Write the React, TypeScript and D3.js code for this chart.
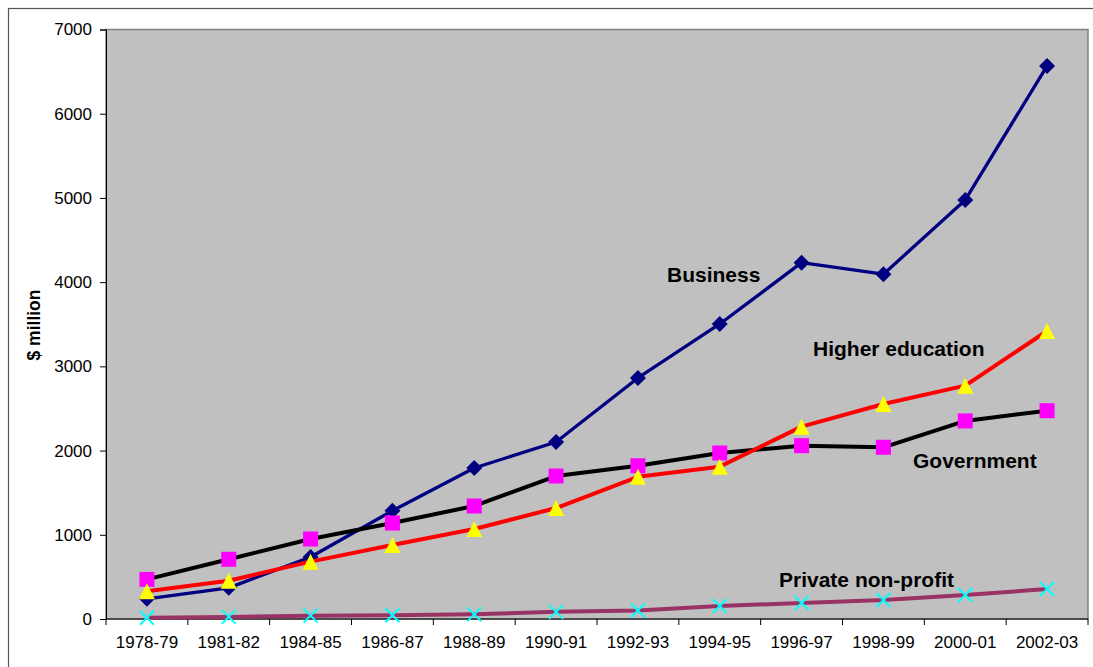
import React, { useEffect, useRef } from "react";
import * as d3 from "d3";

const years = [
  "1978-79", "1981-82", "1984-85", "1986-87", "1988-89", "1990-91",
  "1992-93", "1994-95", "1996-97", "1998-99", "2000-01", "2002-03",
];
const business = [240, 370, 736, 1285, 1793, 2102, 2862, 3503, 4231, 4094, 4976, 6568];
const government = [470, 709, 950, 1140, 1342, 1698, 1819, 1971, 2058, 2039, 2352, 2474];
const higherEducation = [330, 455, 681, 879, 1069, 1318, 1688, 1809, 2284, 2553, 2771, 3420];
const privateNonProfit = [15, 25, 40, 45, 55, 85, 100, 155, 190, 226, 285, 356];
const yTicks = [0, 1000, 2000, 3000, 4000, 5000, 6000, 7000];

const W = 1093;
const H = 667;
const plot = { left: 106, top: 29.5, right: 1088, bottom: 619 };
const FONT = "Liberation Sans, Arial, sans-serif";

export default function App() {
  const ref = useRef<SVGSVGElement | null>(null);

  useEffect(() => {
    const svg = d3.select(ref.current);
    svg.selectAll("*").remove();

    const x = d3.scaleBand<string>().domain(years).range([plot.left, plot.right]);
    const y = d3.scaleLinear().domain([0, 7000]).range([plot.bottom, plot.top]);
    const cx = (i: number) => (x(years[i]) as number) + x.bandwidth() / 2;

    // outer chart frame
    svg.append("rect")
      .attr("x", 8.5).attr("y", 8.5)
      .attr("width", W).attr("height", H)
      .attr("fill", "#fff").attr("stroke", "#555").attr("stroke-width", 1.2);

    // plot area
    svg.append("rect")
      .attr("x", plot.left).attr("y", plot.top)
      .attr("width", plot.right - plot.left).attr("height", plot.bottom - plot.top)
      .attr("fill", "#c0c0c0").attr("stroke", "#808080").attr("stroke-width", 1.5);

    // y axis
    const yAxis = svg.append("g").attr("transform", `translate(${plot.left},0)`)
      .call(d3.axisLeft(y).tickValues(yTicks).tickSize(6).tickPadding(8).tickFormat(d3.format("d")));
    yAxis.attr("font-size", null).attr("font-family", null);
    yAxis.select(".domain").attr("stroke", "#000");
    yAxis.selectAll(".tick line").attr("stroke", "#000");
    yAxis.selectAll("text")
      .style("font-family", FONT)
      .style("font-size", "17px").attr("fill", "#000");

    // x axis with ticks at category boundaries
    const xAxisG = svg.append("g").attr("transform", `translate(0,${plot.bottom})`);
    xAxisG.append("line")
      .attr("x1", plot.left).attr("x2", plot.right)
      .attr("stroke", "#000").attr("stroke-width", 1);
    const boundaries = d3.range(years.length + 1).map((i) => plot.left + i * x.bandwidth());
    xAxisG.selectAll("line.tk").data(boundaries).enter().append("line")
      .attr("class", "tk")
      .attr("x1", (d) => d).attr("x2", (d) => d)
      .attr("y1", 0).attr("y2", 6).attr("stroke", "#000");
    xAxisG.selectAll("text").data(years).enter().append("text")
      .attr("x", (_, i) => cx(i)).attr("y", 29)
      .attr("text-anchor", "middle")
      .style("font-family", FONT)
      .style("font-size", "17px").attr("fill", "#000")
      .text((d) => d);

    // y axis title
    svg.append("text")
      .attr("transform", `translate(40,325) rotate(-90)`)
      .attr("text-anchor", "middle")
      .style("font-family", FONT)
      .style("font-size", "17.5px").attr("font-weight", "bold")
      .text("$ million");

    const line = d3.line<number>().x((_, i) => cx(i)).y((d) => y(d));

    type Marker = "diamond" | "square" | "triangle" | "cross";
    const drawSeries = (data: number[], color: string, width: number, marker: Marker, mfill: string) => {
      const g = svg.append("g");
      g.append("path").attr("d", line(data) as string)
        .attr("fill", "none").attr("stroke", color).attr("stroke-width", width)
        .attr("stroke-linejoin", "round");
      data.forEach((v, i) => {
        const px = cx(i);
        const py = y(v);
        if (marker === "diamond") {
          const r = 8;
          g.append("path")
            .attr("d", `M${px},${py - r}L${px + r},${py}L${px},${py + r}L${px - r},${py}Z`)
            .attr("fill", mfill);
        } else if (marker === "square") {
          g.append("rect").attr("x", px - 7.5).attr("y", py - 7.5)
            .attr("width", 15).attr("height", 15).attr("fill", mfill);
        } else if (marker === "triangle") {
          const r = 8;
          g.append("path")
            .attr("d", `M${px},${py - r}L${px + r},${py + r}L${px - r},${py + r}Z`)
            .attr("fill", mfill);
        } else {
          const r = 7;
          g.append("path")
            .attr("d", `M${px - r},${py - r}L${px + r},${py + r}M${px - r},${py + r}L${px + r},${py - r}`)
            .attr("stroke", mfill).attr("stroke-width", 2).attr("fill", "none");
        }
      });
    };

    drawSeries(business, "#000080", 3.3, "diamond", "#000080");
    drawSeries(government, "#000000", 4, "square", "#ff00ff");
    drawSeries(higherEducation, "#ff0000", 4, "triangle", "#ffff00");
    drawSeries(privateNonProfit, "#993366", 4, "cross", "#00ffff");

    // series labels
    const labels = [
      { text: "Business", x: 667, y: 282 },
      { text: "Higher education", x: 813, y: 356 },
      { text: "Government", x: 913, y: 468 },
      { text: "Private non-profit", x: 779, y: 587 },
    ];
    svg.selectAll("text.lbl").data(labels).enter().append("text")
      .attr("class", "lbl")
      .attr("x", (d) => d.x).attr("y", (d) => d.y)
      .style("font-family", FONT)
      .style("font-size", "21px").attr("font-weight", "bold").attr("fill", "#000")
      .text((d) => d.text);
  }, []);

  return (
    <svg
      ref={ref}
      width={W}
      height={H}
      style={{ position: "absolute", left: 0, top: 0, display: "block" }}
    />
  );
}
